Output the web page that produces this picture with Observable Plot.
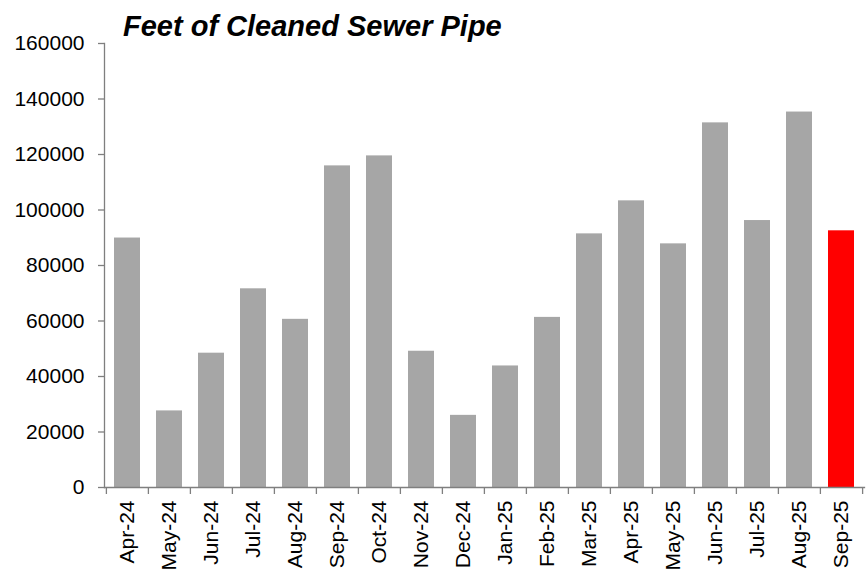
<!DOCTYPE html>
<html>
<head>
<meta charset="utf-8">
<script src="https://cdn.jsdelivr.net/npm/d3@7"></script>
<script src="https://cdn.jsdelivr.net/npm/@observablehq/plot@0.6"></script>
<style>
  html, body { margin: 0; padding: 0; background: #fff; }
  #wrap { position: relative; width: 868px; height: 571px; font-family: "Liberation Sans", Arial, sans-serif; }
  #title { position: absolute; left: 123px; top: 10px; font-size: 29px; font-weight: bold; font-style: italic; color: #000; white-space: nowrap; }
</style>
</head>
<body>
<div id="wrap"><div id="title">Feet of Cleaned Sewer Pipe</div></div>
<script>
const months = ["Apr-24","May-24","Jun-24","Jul-24","Aug-24","Sep-24","Oct-24","Nov-24","Dec-24","Jan-25","Feb-25","Mar-25","Apr-25","May-25","Jun-25","Jul-25","Aug-25","Sep-25"];
const feet = [89900, 27600, 48400, 71600, 60600, 115900, 119500, 49100, 26000, 43800, 61300, 91400, 103300, 87800, 131400, 96200, 135300, 92500];
const yTicks = [0, 20000, 40000, 60000, 80000, 100000, 120000, 140000, 160000];
const highlight = "Sep-25";

const data = months.map((m, i) => ({month: m, value: feet[i]}));

const W = 868, H = 571, mL = 104, mR = 4, mT = 43, mB = 84;
const step = (W - mL - mR) / months.length;
const axisGray = "#7f7f7f";

const chart = Plot.plot({
  width: W, height: H,
  marginLeft: mL, marginRight: mR, marginTop: mT, marginBottom: mB,
  style: {fontFamily: "'Liberation Sans', Arial, sans-serif", fontSize: "21px", color: "#000", background: "#fff"},
  x: {domain: months, paddingInner: 0.37, paddingOuter: 0.185, label: null},
  y: {domain: [0, 160000], label: null},
  marks: [
    Plot.barY(data, {x: "month", y: "value", fill: d => d.month === highlight ? "#ff0000" : "#a6a6a6"}),
    Plot.frame({anchor: "left", stroke: axisGray, strokeWidth: 1.3}),
    Plot.frame({anchor: "bottom", stroke: axisGray, strokeWidth: 1.3}),
    Plot.axisY({ticks: yTicks, tickSize: 6, tickPadding: 14, tickFormat: d3.format("d"), stroke: axisGray, fill: "#000", fontSize: 21, strokeWidth: 1.3}),
    Plot.axisX({tickSize: 0, tickPadding: 13, tickRotate: -90, fill: "#000", fontSize: 21}),
    Plot.axisX({tickSize: 7, tickFormat: () => "", dx: -step / 2, stroke: axisGray, strokeWidth: 1.3}),
    Plot.axisX([months[months.length - 1]], {tickSize: 7, tickFormat: () => "", dx: step / 2, stroke: axisGray, strokeWidth: 1.3})
  ]
});
document.getElementById("wrap").appendChild(chart);
</script>
</body>
</html>
